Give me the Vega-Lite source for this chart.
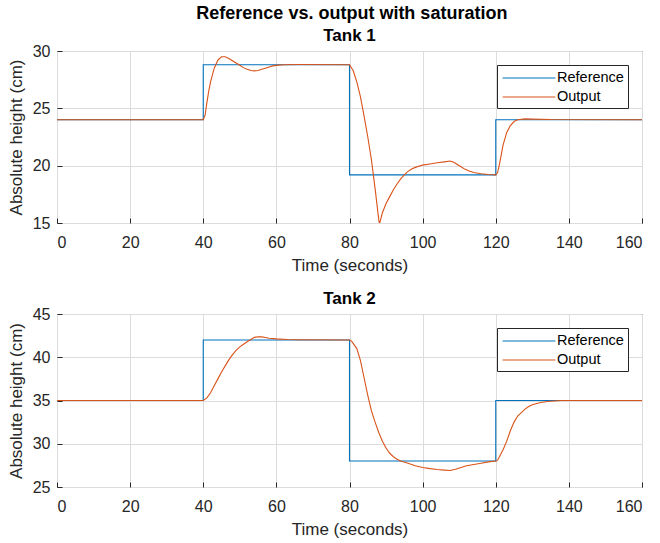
{
  "$schema": "https://vega.github.io/schema/vega-lite/v6.json",
  "background": "white",
  "padding": {"left": 6, "top": 4, "right": 14, "bottom": 1},
  "title": {"text": "Reference vs. output with saturation", "fontSize": 18, "fontWeight": "bold", "font": "Liberation Sans", "color": "#000000", "anchor": "middle", "offset": 4, "dx": 27},
  "config": {
    "font": "Liberation Sans",
    "view": {"stroke": "#262626", "strokeWidth": 1},
    "title": {"fontSize": 17, "fontWeight": "bold", "color": "#000000", "offset": -2},
    "axis": {
      "domain": false,
      "grid": true,
      "gridColor": "#dcdcdc",
      "gridWidth": 1,
      "ticks": true,
      "tickSize": -5,
      "tickColor": "#262626",
      "labelFontSize": 16,
      "labelColor": "#262626",
      "labelFont": "Liberation Sans",
      "titleFontSize": 17,
      "titleFontWeight": "normal",
      "titleColor": "#262626",
      "titleFont": "Liberation Sans"
    },
    "axisX": {"labelPadding": 16, "titlePadding": 7},
    "axisY": {"labelPadding": 12, "titlePadding": 7},
    "legend": {
      "orient": "top-right",
      "offset": 14,
      "title": null,
      "strokeColor": "#262626",
      "fillColor": "white",
      "padding": 4,
      "symbolType": "M-3.3,0H3.3",
      "symbolSize": 256,
      "symbolStrokeWidth": 1.1,
      "symbolOffset": 19,
      "labelOffset": 19,
      "labelFontSize": 14.5,
      "labelColor": "#000000",
      "labelFont": "Liberation Sans",
      "rowPadding": 3
    }
  },
  "datasets": {
    "tank1": [
      {"t": 0, "h": 24, "series": "Reference"},
      {"t": 40, "h": 24, "series": "Reference"},
      {"t": 40, "h": 28.8, "series": "Reference"},
      {"t": 80, "h": 28.8, "series": "Reference"},
      {"t": 80, "h": 19.2, "series": "Reference"},
      {"t": 120, "h": 19.2, "series": "Reference"},
      {"t": 120, "h": 24, "series": "Reference"},
      {"t": 160, "h": 24, "series": "Reference"},
      {"t": 0, "h": 24, "series": "Output"},
      {"t": 40, "h": 24, "series": "Output"},
      {"t": 40.5, "h": 24.4, "series": "Output"},
      {"t": 41, "h": 25.5, "series": "Output"},
      {"t": 41.5, "h": 26.5, "series": "Output"},
      {"t": 42, "h": 27.3, "series": "Output"},
      {"t": 43, "h": 28.5, "series": "Output"},
      {"t": 44, "h": 29.2, "series": "Output"},
      {"t": 45, "h": 29.5, "series": "Output"},
      {"t": 46, "h": 29.5, "series": "Output"},
      {"t": 47, "h": 29.35, "series": "Output"},
      {"t": 48, "h": 29.15, "series": "Output"},
      {"t": 49, "h": 28.95, "series": "Output"},
      {"t": 50, "h": 28.75, "series": "Output"},
      {"t": 51, "h": 28.55, "series": "Output"},
      {"t": 52, "h": 28.4, "series": "Output"},
      {"t": 53, "h": 28.3, "series": "Output"},
      {"t": 54, "h": 28.27, "series": "Output"},
      {"t": 55, "h": 28.3, "series": "Output"},
      {"t": 56, "h": 28.4, "series": "Output"},
      {"t": 57, "h": 28.5, "series": "Output"},
      {"t": 58, "h": 28.6, "series": "Output"},
      {"t": 59, "h": 28.7, "series": "Output"},
      {"t": 60, "h": 28.75, "series": "Output"},
      {"t": 62, "h": 28.8, "series": "Output"},
      {"t": 66, "h": 28.82, "series": "Output"},
      {"t": 80, "h": 28.8, "series": "Output"},
      {"t": 81, "h": 28.3, "series": "Output"},
      {"t": 82, "h": 27.3, "series": "Output"},
      {"t": 83, "h": 26.0, "series": "Output"},
      {"t": 84, "h": 24.3, "series": "Output"},
      {"t": 85, "h": 22.5, "series": "Output"},
      {"t": 86, "h": 20.5, "series": "Output"},
      {"t": 87, "h": 18.0, "series": "Output"},
      {"t": 88, "h": 15.3, "series": "Output"},
      {"t": 88.2, "h": 14.9, "series": "Output"},
      {"t": 89, "h": 15.9, "series": "Output"},
      {"t": 90, "h": 16.7, "series": "Output"},
      {"t": 91, "h": 17.3, "series": "Output"},
      {"t": 92, "h": 17.9, "series": "Output"},
      {"t": 93, "h": 18.4, "series": "Output"},
      {"t": 94, "h": 18.85, "series": "Output"},
      {"t": 95, "h": 19.2, "series": "Output"},
      {"t": 96, "h": 19.5, "series": "Output"},
      {"t": 97, "h": 19.7, "series": "Output"},
      {"t": 98, "h": 19.85, "series": "Output"},
      {"t": 100, "h": 20.05, "series": "Output"},
      {"t": 102, "h": 20.15, "series": "Output"},
      {"t": 104, "h": 20.25, "series": "Output"},
      {"t": 106, "h": 20.33, "series": "Output"},
      {"t": 107.5, "h": 20.4, "series": "Output"},
      {"t": 108.5, "h": 20.3, "series": "Output"},
      {"t": 109.5, "h": 20.1, "series": "Output"},
      {"t": 110.5, "h": 19.9, "series": "Output"},
      {"t": 111.5, "h": 19.7, "series": "Output"},
      {"t": 112.5, "h": 19.55, "series": "Output"},
      {"t": 114, "h": 19.4, "series": "Output"},
      {"t": 116, "h": 19.3, "series": "Output"},
      {"t": 118, "h": 19.23, "series": "Output"},
      {"t": 120, "h": 19.2, "series": "Output"},
      {"t": 120.5, "h": 19.4, "series": "Output"},
      {"t": 121, "h": 20.1, "series": "Output"},
      {"t": 122, "h": 21.8, "series": "Output"},
      {"t": 123, "h": 22.9, "series": "Output"},
      {"t": 124, "h": 23.5, "series": "Output"},
      {"t": 125, "h": 23.85, "series": "Output"},
      {"t": 126, "h": 24.0, "series": "Output"},
      {"t": 128, "h": 24.08, "series": "Output"},
      {"t": 130, "h": 24.06, "series": "Output"},
      {"t": 135, "h": 24.02, "series": "Output"},
      {"t": 160, "h": 24, "series": "Output"}
    ],
    "tank2": [
      {"t": 0, "h": 35, "series": "Reference"},
      {"t": 40, "h": 35, "series": "Reference"},
      {"t": 40, "h": 42, "series": "Reference"},
      {"t": 80, "h": 42, "series": "Reference"},
      {"t": 80, "h": 28, "series": "Reference"},
      {"t": 120, "h": 28, "series": "Reference"},
      {"t": 120, "h": 35, "series": "Reference"},
      {"t": 160, "h": 35, "series": "Reference"},
      {"t": 0, "h": 35, "series": "Output"},
      {"t": 40, "h": 35, "series": "Output"},
      {"t": 41, "h": 35.3, "series": "Output"},
      {"t": 42, "h": 35.9, "series": "Output"},
      {"t": 43, "h": 36.7, "series": "Output"},
      {"t": 44, "h": 37.5, "series": "Output"},
      {"t": 45, "h": 38.3, "series": "Output"},
      {"t": 46, "h": 39.0, "series": "Output"},
      {"t": 47, "h": 39.7, "series": "Output"},
      {"t": 48, "h": 40.3, "series": "Output"},
      {"t": 49, "h": 40.8, "series": "Output"},
      {"t": 50, "h": 41.2, "series": "Output"},
      {"t": 51, "h": 41.5, "series": "Output"},
      {"t": 52, "h": 41.8, "series": "Output"},
      {"t": 53, "h": 42.05, "series": "Output"},
      {"t": 54, "h": 42.3, "series": "Output"},
      {"t": 55, "h": 42.37, "series": "Output"},
      {"t": 56, "h": 42.35, "series": "Output"},
      {"t": 57, "h": 42.28, "series": "Output"},
      {"t": 58, "h": 42.2, "series": "Output"},
      {"t": 60, "h": 42.12, "series": "Output"},
      {"t": 63, "h": 42.05, "series": "Output"},
      {"t": 66, "h": 42.02, "series": "Output"},
      {"t": 80, "h": 42, "series": "Output"},
      {"t": 80.5, "h": 41.9, "series": "Output"},
      {"t": 81, "h": 41.6, "series": "Output"},
      {"t": 82, "h": 41.0, "series": "Output"},
      {"t": 83, "h": 39.6, "series": "Output"},
      {"t": 84, "h": 37.6, "series": "Output"},
      {"t": 85, "h": 35.6, "series": "Output"},
      {"t": 86, "h": 33.8, "series": "Output"},
      {"t": 87, "h": 32.5, "series": "Output"},
      {"t": 88, "h": 31.3, "series": "Output"},
      {"t": 89, "h": 30.3, "series": "Output"},
      {"t": 90, "h": 29.5, "series": "Output"},
      {"t": 91, "h": 28.9, "series": "Output"},
      {"t": 92, "h": 28.5, "series": "Output"},
      {"t": 93, "h": 28.2, "series": "Output"},
      {"t": 94, "h": 28.0, "series": "Output"},
      {"t": 96, "h": 27.75, "series": "Output"},
      {"t": 98, "h": 27.45, "series": "Output"},
      {"t": 100, "h": 27.25, "series": "Output"},
      {"t": 102, "h": 27.12, "series": "Output"},
      {"t": 104, "h": 27.02, "series": "Output"},
      {"t": 106, "h": 26.95, "series": "Output"},
      {"t": 107.5, "h": 26.9, "series": "Output"},
      {"t": 109, "h": 27.05, "series": "Output"},
      {"t": 110.5, "h": 27.25, "series": "Output"},
      {"t": 112, "h": 27.45, "series": "Output"},
      {"t": 114, "h": 27.6, "series": "Output"},
      {"t": 116, "h": 27.75, "series": "Output"},
      {"t": 118, "h": 27.9, "series": "Output"},
      {"t": 120, "h": 28, "series": "Output"},
      {"t": 120.5, "h": 28.1, "series": "Output"},
      {"t": 121, "h": 28.5, "series": "Output"},
      {"t": 122, "h": 29.3, "series": "Output"},
      {"t": 123, "h": 30.3, "series": "Output"},
      {"t": 124, "h": 31.5, "series": "Output"},
      {"t": 125, "h": 32.5, "series": "Output"},
      {"t": 126, "h": 33.2, "series": "Output"},
      {"t": 127, "h": 33.6, "series": "Output"},
      {"t": 128, "h": 34.0, "series": "Output"},
      {"t": 129, "h": 34.3, "series": "Output"},
      {"t": 130, "h": 34.5, "series": "Output"},
      {"t": 132, "h": 34.75, "series": "Output"},
      {"t": 134, "h": 34.88, "series": "Output"},
      {"t": 136, "h": 34.95, "series": "Output"},
      {"t": 138, "h": 35.0, "series": "Output"},
      {"t": 160, "h": 35, "series": "Output"}
    ]
  },
  "spacing": 15,
  "resolve": {"legend": {"color": "independent"}},
  "vconcat": [
    {
      "width": 585,
      "height": 172,
      "title": {"text": "Tank 1"},
      "data": {"name": "tank1"},
      "mark": {"type": "line", "strokeWidth": 1.1, "clip": true},
      "encoding": {
        "x": {"field": "t", "type": "quantitative", "scale": {"domain": [0, 160], "nice": false}, "axis": {"values": [0, 20, 40, 60, 80, 100, 120, 140, 160], "title": "Time (seconds)"}},
        "y": {"field": "h", "type": "quantitative", "scale": {"domain": [15, 30], "nice": false, "zero": false}, "axis": {"values": [15, 20, 25, 30], "title": "Absolute height (cm)"}},
        "color": {"field": "series", "type": "nominal", "scale": {"domain": ["Reference", "Output"], "range": ["#0072BD", "#D95319"]}, "legend": {"encode": {"symbols": {"update": {"stroke": {"signal": "datum.label === 'Reference' ? '#0072BD' : '#D95319'"}}}}}}
      }
    },
    {
      "width": 585,
      "height": 173,
      "title": {"text": "Tank 2"},
      "data": {"name": "tank2"},
      "mark": {"type": "line", "strokeWidth": 1.1, "clip": true},
      "encoding": {
        "x": {"field": "t", "type": "quantitative", "scale": {"domain": [0, 160], "nice": false}, "axis": {"values": [0, 20, 40, 60, 80, 100, 120, 140, 160], "title": "Time (seconds)"}},
        "y": {"field": "h", "type": "quantitative", "scale": {"domain": [25, 45], "nice": false, "zero": false}, "axis": {"values": [25, 30, 35, 40, 45], "title": "Absolute height (cm)"}},
        "color": {"field": "series", "type": "nominal", "scale": {"domain": ["Reference", "Output"], "range": ["#0072BD", "#D95319"]}, "legend": {"encode": {"symbols": {"update": {"stroke": {"signal": "datum.label === 'Reference' ? '#0072BD' : '#D95319'"}}}}}}
      }
    }
  ]
}
